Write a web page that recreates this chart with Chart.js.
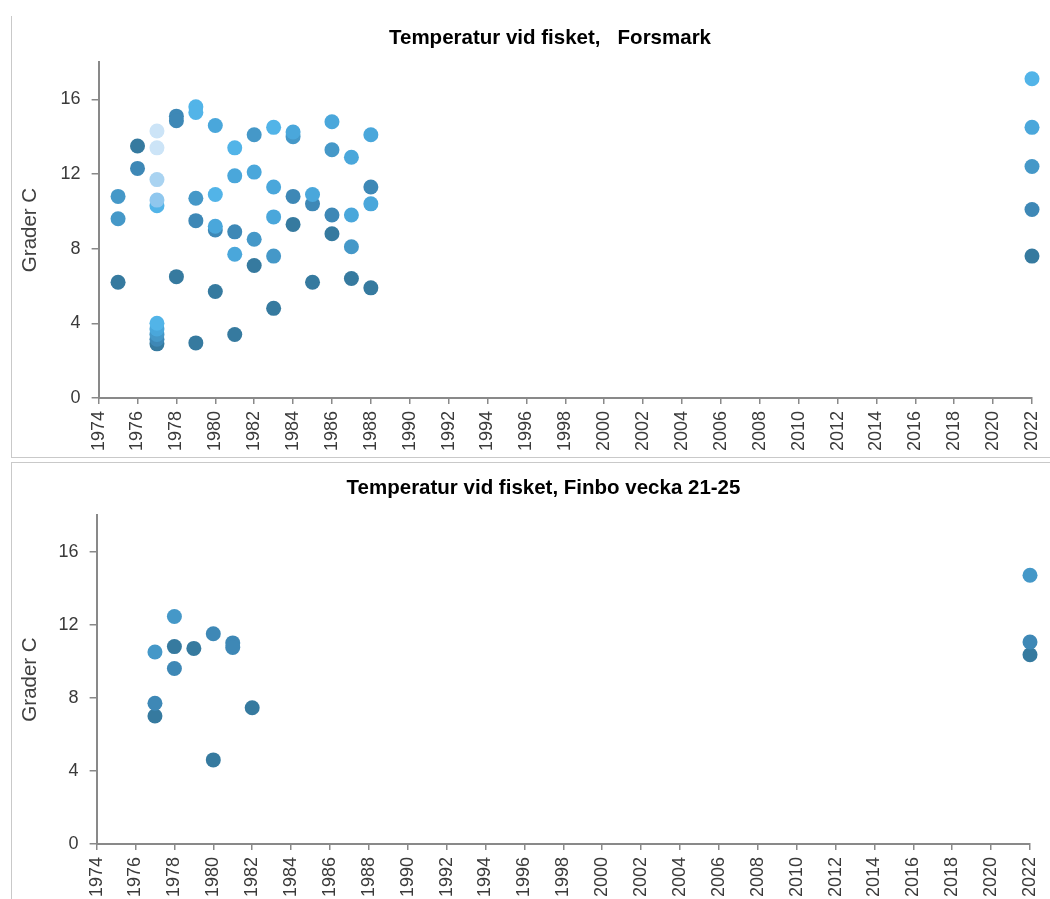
<!DOCTYPE html>
<html>
<head>
<meta charset="utf-8">
<script src="https://cdn.jsdelivr.net/npm/chart.js@4.4.0/dist/chart.umd.min.js"></script>
<style>
    html, body { margin: 0; padding: 0; background: #fff; overflow: hidden; }
    body { width: 1050px; height: 899px; position: relative; }
    .frame { position: absolute; border: 1px solid #c9c9c9; }
    #frameTop { left: 11px; top: 16px; width: 1100px; height: 441px; border-top: none; border-right: none; }
    #frameBottom { left: 11px; top: 462px; width: 1100px; height: 500px; border-right: none; }
    .box { position: absolute; }
    #boxTop { left: 12px; top: 0; width: 1076px; height: 458px; }
    #boxBottom { left: 12px; top: 463px; width: 1063px; height: 441px; }
</style>
</head>
<body>
<div class="frame" id="frameTop"></div>
<div class="frame" id="frameBottom"></div>
<div class="box" id="boxTop"><canvas id="forsmarkChart"></canvas></div>
<div class="box" id="boxBottom"><canvas id="finboChart"></canvas></div>

<script>
    // ============================================
    // Data: [year, degrees C] per colour group
    // ============================================

    const forsmarkDark = [[1975, 6.2], [1976, 13.5], [1977, 2.9], [1978, 6.5], [1979, 2.95], [1980, 5.7],
        [1981, 3.4], [1982, 7.1], [1983, 4.8], [1984, 9.3], [1985, 6.2], [1986, 8.8], [1987, 6.4],
        [1988, 5.9], [2022, 7.6]];
    const forsmarkMidDark = [[1976, 12.3], [1977, 3.15], [1978, 15.1], [1978, 14.85], [1979, 9.5],
        [1980, 9.0], [1981, 8.9], [1984, 10.8], [1985, 10.4], [1986, 9.8], [1988, 11.3], [2022, 10.1]];
    const forsmarkMid = [[1975, 10.8], [1975, 9.6], [1977, 3.4], [1979, 10.7], [1982, 14.1], [1982, 8.5],
        [1983, 7.6], [1984, 14.0], [1986, 13.3], [1987, 8.1], [2022, 12.4]];
    const forsmarkMidLight = [[1977, 3.7], [1980, 14.6], [1980, 9.2], [1981, 11.9], [1981, 7.7],
        [1982, 12.1], [1983, 11.3], [1983, 9.7], [1984, 14.25], [1985, 10.9], [1986, 14.8],
        [1987, 12.9], [1987, 9.8], [1988, 14.1], [1988, 10.4], [2022, 14.5]];
    const forsmarkLight = [[1977, 10.3], [1977, 4.0], [1979, 15.6], [1979, 15.3], [1980, 10.9],
        [1981, 13.4], [1983, 14.5], [2022, 17.1]];
    const forsmarkPale1 = [[1977, 14.3], [1977, 13.4]];
    const forsmarkPale2 = [[1977, 11.7]];
    const forsmarkPale3 = [[1977, 10.6]];

    const finboDark = [[1977, 7.0], [1978, 10.8], [1979, 10.7], [1980, 4.6], [1982, 7.45], [2022, 10.35]];
    const finboMidDark = [[1977, 7.7], [1978, 9.6], [1980, 11.5], [1981, 11.0], [1981, 10.75], [2022, 11.05]];
    const finboMid = [[1977, 10.5], [1978, 12.45], [2022, 14.7]];

    const yearMin = 1974;
    const yearMax = 2022;
    const tempMax = 18;

    // ============================================
    // Styling
    // ============================================

    const FONT = '"Liberation Sans", Arial, sans-serif';
    const COLORS = {
        dark: '#367a9f',
        midDark: '#3e88b6',
        mid: '#4598c8',
        midLight: '#4aa7db',
        light: '#52b4e8',
        pale1: '#cce4f7',
        pale2: '#a9d3f1',
        pale3: '#8fc7ee',
        axis: '#898989',
        text: '#3a3a3a'
    };

    function toPoints(pairs) {
        return pairs.map(p => ({ x: p[0], y: p[1] }));
    }

    function dataset(pairs, color) {
        return {
            data: toPoints(pairs),
            backgroundColor: color,
            borderWidth: 0,
            pointRadius: 7.5,
            pointHoverRadius: 7.5,
            clip: false
        };
    }

    // title text, title padding, right inset of the plot, y-title padding
    function buildOptions(title, titlePad, rightInset, yTitlePad) {
        return {
            responsive: true,
            maintainAspectRatio: false,
            animation: false,
            layout: { padding: 0 },
            plugins: {
                legend: { display: false },
                tooltip: { enabled: false },
                title: {
                    display: true,
                    text: title,
                    color: '#000',
                    font: { family: FONT, size: 20.5, weight: 'bold' },
                    padding: titlePad
                }
            },
            scales: {
                x: {
                    type: 'linear',
                    min: yearMin,
                    max: yearMax,
                    afterFit: scale => {
                        scale.paddingRight = rightInset;
                    },
                    ticks: {
                        stepSize: 2,
                        autoSkip: false,
                        minRotation: 90,
                        maxRotation: 90,
                        padding: 7,
                        color: COLORS.text,
                        font: { family: FONT, size: 18 },
                        callback: v => String(v)
                    },
                    grid: { drawOnChartArea: false, tickLength: 6, color: COLORS.axis, lineWidth: 1.5 },
                    border: { color: COLORS.axis, width: 2 }
                },
                y: {
                    min: 0,
                    max: tempMax,
                    afterBuildTicks: scale => {
                        scale.ticks = scale.ticks.filter(t => t.value % 4 === 0);
                    },
                    ticks: {
                        stepSize: 4,
                        padding: 11,
                        color: COLORS.text,
                        font: { family: FONT, size: 18 }
                    },
                    grid: { drawOnChartArea: false, tickLength: 7, color: COLORS.axis, lineWidth: 1.5 },
                    border: { color: COLORS.axis, width: 2 },
                    title: {
                        display: true,
                        text: 'Grader C',
                        color: '#404040',
                        font: { family: FONT, size: 20.5 },
                        padding: yTitlePad
                    }
                }
            }
        };
    }

    // ============================================
    // Charts
    // ============================================

    new Chart(document.getElementById('forsmarkChart'), {
        type: 'scatter',
        data: {
            datasets: [
                dataset(forsmarkPale1, COLORS.pale1),
                dataset(forsmarkPale2, COLORS.pale2),
                dataset(forsmarkPale3, COLORS.pale3),
                dataset(forsmarkLight, COLORS.light),
                dataset(forsmarkMidLight, COLORS.midLight),
                dataset(forsmarkMid, COLORS.mid),
                dataset(forsmarkMidDark, COLORS.midDark),
                dataset(forsmarkDark, COLORS.dark)
            ]
        },
        options: buildOptions('Temperatur vid fisket,   Forsmark',
            { top: 25.7, bottom: 11.7 }, 56, { top: 6, bottom: 7 })
    });

    new Chart(document.getElementById('finboChart'), {
        type: 'scatter',
        data: {
            datasets: [
                dataset(finboMid, COLORS.mid),
                dataset(finboMidDark, COLORS.midDark),
                dataset(finboDark, COLORS.dark)
            ]
        },
        options: buildOptions('Temperatur vid fisket, Finbo vecka 21-25',
            { top: 12.7, bottom: 14.7 }, 45, { top: 6, bottom: 5 })
    });
</script>
</body>
</html>
